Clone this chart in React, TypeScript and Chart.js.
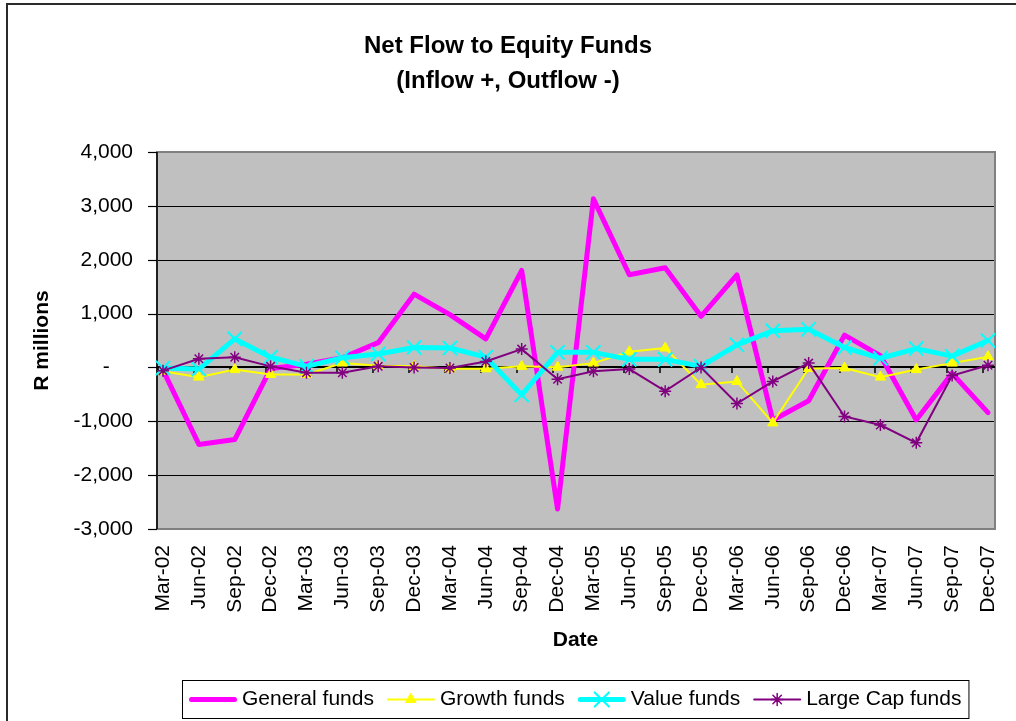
import React, { useEffect, useRef } from 'react';
import { Chart, registerables } from 'chart.js';
import { drawPoint } from 'chart.js/helpers';

Chart.register(...registerables);

const FONT = "'Liberation Sans', Arial, Helvetica, sans-serif";

const categories = [
  'Mar-02', 'Jun-02', 'Sep-02', 'Dec-02',
  'Mar-03', 'Jun-03', 'Sep-03', 'Dec-03',
  'Mar-04', 'Jun-04', 'Sep-04', 'Dec-04',
  'Mar-05', 'Jun-05', 'Sep-05', 'Dec-05',
  'Mar-06', 'Jun-06', 'Sep-06', 'Dec-06',
  'Mar-07', 'Jun-07', 'Sep-07', 'Dec-07',
];

const generalFunds = [
  -50, -1430, -1340, -20,
  60, 180, 460, 1360,
  980, 530, 1800, -2630,
  3130, 1720, 1850, 950,
  1720, -980, -620, 600,
  220, -975, -110, -840,
];

const growthFunds = [
  -70, -180, -40, -130,
  -130, 80, 30, 20,
  -25, -25, 20, 5,
  80, 290, 360, -320,
  -260, -1030, -20, -10,
  -180, -40, 80, 200,
];

const valueFunds = [
  -10, -30, 530, 190,
  20, 180, 250, 370,
  360, 190, -510, 280,
  280, 150, 150, 20,
  420, 680, 710, 370,
  170, 350, 210, 500,
];

const largeCapFunds = [
  -60, 160, 190, 20,
  -100, -100, 20, 0,
  -10, 110, 340, -220,
  -70, -30, -440, 0,
  -670, -260, 80, -910,
  -1070, -1400, -150, 40,
];

const seriesNames = ['General funds', 'Growth funds', 'Value funds', 'Large Cap funds'];
const titleLines = ['Net Flow to Equity Funds', '(Inflow +, Outflow -)'];
const yAxisTitle = 'R millions';
const xAxisTitle = 'Date';
const yMin = -3000;
const yMax = 4000;
const yStep = 1000;

const excelPlot = {
  id: 'excelPlot',
  beforeDraw(chart: any) {
    const { ctx, chartArea: ca, scales } = chart;
    const x = scales.x;
    const y = scales.y;
    ctx.save();
    ctx.fillStyle = '#ffffff';
    ctx.fillRect(0, 0, chart.width, chart.height);
    // outer frame
    ctx.strokeStyle = '#2a2a2a';
    ctx.lineWidth = 2;
    ctx.strokeRect(7, 4, chart.width + 20, chart.height + 20);

    const L = ca.left - 6;
    const R = ca.right + 7;
    ctx.fillStyle = '#C0C0C0';
    ctx.fillRect(L, ca.top, R - L, ca.bottom - ca.top);

    // gridlines
    ctx.strokeStyle = '#000000';
    ctx.lineWidth = 1;
    y.ticks.forEach((t: any) => {
      if (t.value === 0 || t.value === y.max || t.value === y.min) return;
      const py = Math.round(y.getPixelForValue(t.value)) + 0.5;
      ctx.beginPath();
      ctx.moveTo(L, py);
      ctx.lineTo(R, py);
      ctx.stroke();
    });

    // plot border
    ctx.strokeStyle = '#808080';
    ctx.lineWidth = 2;
    ctx.strokeRect(L, ca.top, R - L, ca.bottom - ca.top);

    // y axis line + ticks
    ctx.strokeStyle = '#000000';
    ctx.lineWidth = 1.5;
    ctx.beginPath();
    ctx.moveTo(L, ca.top);
    ctx.lineTo(L, ca.bottom);
    ctx.stroke();
    ctx.lineWidth = 1.2;
    y.ticks.forEach((t: any) => {
      const py = Math.round(y.getPixelForValue(t.value)) + 0.5;
      ctx.beginPath();
      ctx.moveTo(L - 9, py);
      ctx.lineTo(L, py);
      ctx.stroke();
    });

    // zero (category) axis line with tick marks
    const z = Math.round(y.getPixelForValue(0));
    ctx.lineWidth = 2;
    ctx.beginPath();
    ctx.moveTo(L, z);
    ctx.lineTo(R, z);
    ctx.stroke();
    ctx.lineWidth = 1.5;
    categories.forEach((_, i) => {
      const px = Math.round(x.getPixelForValue(i)) - 5;
      ctx.beginPath();
      ctx.moveTo(px, z);
      ctx.lineTo(px, z + 6);
      ctx.stroke();
    });
    ctx.restore();
  },
  afterDraw(chart: any) {
    const { ctx, chartArea: ca } = chart;
    ctx.save();
    ctx.font = `21px ${FONT}`;
    const dsets = chart.data.datasets;
    const sample = 48, gapS = 5, gapI = 13, padL = 7, padR = 7;
    const widths = dsets.map((d: any) => ctx.measureText(d.label).width);
    let total = padL + padR + gapI * (dsets.length - 1);
    widths.forEach((w: number) => { total += sample + gapS + w; });
    const cx = (ca.left + ca.right) / 2;
    const bx = Math.round(cx - total / 2);
    const by = 680;
    const bh = 38;
    ctx.fillStyle = '#ffffff';
    ctx.fillRect(bx, by, total, bh);
    ctx.strokeStyle = '#000000';
    ctx.lineWidth = 1;
    ctx.strokeRect(bx + 0.5, by + 0.5, total, bh);
    const cy = by + bh / 2 + 0.5;
    let xx = bx + padL;
    dsets.forEach((d: any, i: number) => {
      ctx.save();
      ctx.strokeStyle = d.borderColor;
      ctx.lineWidth = d.borderWidth;
      ctx.lineCap = 'round';
      ctx.beginPath();
      ctx.moveTo(xx + d.borderWidth / 2, cy);
      ctx.lineTo(xx + sample - d.borderWidth / 2, cy);
      ctx.stroke();
      if (d.pointRadius > 0) {
        ctx.fillStyle = d.pointBackgroundColor;
        ctx.strokeStyle = d.pointBorderColor;
        ctx.lineWidth = d.pointBorderWidth;
        drawPoint(ctx, {
          pointStyle: d.pointStyle,
          radius: d.pointRadius,
          rotation: 0,
          borderWidth: d.pointBorderWidth,
        } as any, xx + sample / 2, cy);
      }
      ctx.restore();
      ctx.fillStyle = '#000000';
      ctx.textAlign = 'left';
      ctx.textBaseline = 'middle';
      ctx.fillText(d.label, xx + sample + gapS, cy);
      xx += sample + gapS + widths[i] + gapI;
    });
    ctx.restore();
  },
};

export default function App() {
  const canvasRef = useRef<HTMLCanvasElement | null>(null);

  useEffect(() => {
    const canvas = canvasRef.current;
    if (!canvas) return;
    Chart.defaults.font.family = FONT;
    Chart.defaults.color = '#000000';

    const chart = new Chart(canvas, {
      type: 'line',
      data: {
        labels: categories,
        datasets: [
          {
            label: seriesNames[0],
            data: generalFunds,
            borderColor: '#FF00FF',
            backgroundColor: '#FF00FF',
            borderWidth: 5,
            pointRadius: 0,
            pointStyle: 'circle',
            pointBackgroundColor: '#FF00FF',
            pointBorderColor: '#FF00FF',
            pointBorderWidth: 0,
            borderJoinStyle: 'round',
            borderCapStyle: 'round',
            tension: 0,
            clip: false,
            order: 4,
          },
          {
            label: seriesNames[1],
            data: growthFunds,
            borderColor: '#FFFF00',
            backgroundColor: '#FFFF00',
            borderWidth: 2,
            pointRadius: 6,
            pointStyle: 'triangle',
            pointBackgroundColor: '#FFFF00',
            pointBorderColor: '#FFFF00',
            pointBorderWidth: 1,
            tension: 0,
            clip: false,
            order: 3,
          },
          {
            label: seriesNames[2],
            data: valueFunds,
            borderColor: '#00FFFF',
            backgroundColor: '#00FFFF',
            borderWidth: 5,
            pointRadius: 10,
            pointStyle: 'crossRot',
            pointBackgroundColor: '#00FFFF',
            pointBorderColor: '#00FFFF',
            pointBorderWidth: 2,
            borderJoinStyle: 'round',
            borderCapStyle: 'round',
            tension: 0,
            clip: false,
            order: 2,
          },
          {
            label: seriesNames[3],
            data: largeCapFunds,
            borderColor: '#800080',
            backgroundColor: '#800080',
            borderWidth: 2,
            pointRadius: 6,
            pointStyle: 'star',
            pointBackgroundColor: '#800080',
            pointBorderColor: '#800080',
            pointBorderWidth: 1.5,
            tension: 0,
            clip: false,
            order: 1,
          },
        ] as any,
      },
      options: {
        responsive: false,
        animation: false,
        devicePixelRatio: 1,
        events: [],
        layout: { padding: { left: 0, right: 0, top: 0, bottom: 0 } },
        plugins: {
          legend: { display: false },
          tooltip: { enabled: false },
          title: {
            display: true,
            text: titleLines,
            color: '#000000',
            font: { family: FONT, size: 24, weight: 'bold', lineHeight: '35px' } as any,
            padding: { top: 29, bottom: 53 },
          },
        },
        scales: {
          x: {
            type: 'category',
            offset: false,
            grid: { display: false, drawTicks: false },
            border: { display: false },
            ticks: {
              autoSkip: false,
              minRotation: 90,
              maxRotation: 90,
              padding: 16,
              color: '#000000',
              font: { family: FONT, size: 21 },
            },
            title: {
              display: true,
              text: xAxisTitle,
              color: '#000000',
              font: { family: FONT, size: 21, weight: 'bold' },
              padding: { top: 0, bottom: 68 },
            },
            afterFit: (scale: any) => {
              scale.height = 192;
              scale.paddingLeft = 0;
              scale.paddingRight = 28;
            },
          },
          y: {
            type: 'linear',
            min: yMin,
            max: yMax,
            grid: { display: false, drawTicks: false },
            border: { display: false },
            ticks: {
              stepSize: yStep,
              padding: 30,
              color: '#000000',
              font: { family: FONT, size: 21 },
              callback: (v: any) => (Number(v) === 0 ? '-    ' : Number(v).toLocaleString('en-US')),
            },
            title: {
              display: true,
              text: yAxisTitle,
              color: '#000000',
              font: { family: FONT, size: 21, weight: 'bold' },
              padding: { top: 30, bottom: 0 },
            },
            afterFit: (scale: any) => { scale.width = 163; },
          },
        },
      },
      plugins: [excelPlot],
    });

    return () => { chart.destroy(); };
  }, []);

  return (
    <div style={{ position: 'absolute', left: 0, top: 0, width: 1016, height: 721, background: '#fff' }}>
      <canvas ref={canvasRef} width={1016} height={721} style={{ display: 'block' }} />
    </div>
  );
}
